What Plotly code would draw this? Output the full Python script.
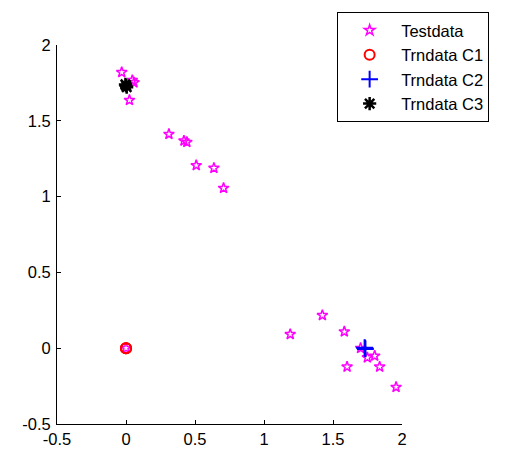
import plotly.graph_objects as go

# Test data (x, y)
test_x = [-0.031, 0.046, 0.058, 0.025, 0.311, 0.420, 0.441, 0.509, 0.637, 0.707, 0.0,
          1.190, 1.423, 1.582, 1.700, 1.749, 1.802, 1.602, 1.838, 1.957]
test_y = [1.820, 1.767, 1.752, 1.636, 1.412, 1.368, 1.359, 1.206, 1.188, 1.056, 0.0,
          0.092, 0.217, 0.109, 0.0, -0.062, -0.051, -0.123, -0.123, -0.257]

# Training data per class
c1_x = [0.0, 0.0, 0.0]
c1_y = [0.0, 0.0, 0.0]
c2_x = [1.732, 1.735, 1.729]
c2_y = [0.0, -0.005, 0.003]
c3_x = [0.0, 0.005, -0.004]
c3_y = [1.732, 1.722, 1.740]

tick_vals = [-0.5, 0, 0.5, 1, 1.5, 2]
tick_text = ["-0.5", "0", "0.5", "1", "1.5", "2"]

fig = go.Figure()
fig.add_trace(go.Scatter(x=test_x, y=test_y, mode="markers", name="Testdata",
                         marker=dict(symbol="star-open", size=8, color="#FF00FF",
                                     line=dict(width=1.5, color="#FF00FF"))))
fig.add_trace(go.Scatter(x=c1_x, y=c1_y, mode="markers", name="Trndata C1",
                         marker=dict(symbol="circle-open", size=10, color="#FF0000",
                                     line=dict(width=2, color="#FF0000"))))
fig.add_trace(go.Scatter(x=c2_x, y=c2_y, mode="markers", name="Trndata C2",
                         marker=dict(symbol="cross-thin-open", size=12, color="#0000FF",
                                     line=dict(width=2, color="#0000FF"))))
fig.add_trace(go.Scatter(x=c3_x, y=c3_y, mode="markers", name="Trndata C3",
                         marker=dict(symbol="asterisk-open", size=11, color="#000000",
                                     line=dict(width=2.5, color="#000000"))))

axis_common = dict(range=[-0.5, 2], tickvals=tick_vals, ticktext=tick_text,
                   showgrid=False, zeroline=False, showline=True, linecolor="black",
                   linewidth=1, ticks="inside", ticklen=4, tickcolor="black",
                   tickfont=dict(family="Liberation Sans, Arial", size=16.5, color="black"),
                   mirror=False, automargin=False)

fig.update_layout(
    width=506, height=450,
    margin=dict(l=57, r=104, t=45, b=26),
    plot_bgcolor="white", paper_bgcolor="white",
    xaxis=dict(**axis_common, ticklabelstandoff=0),
    yaxis=dict(**axis_common, ticklabelstandoff=2),
    showlegend=True,
    legend=dict(x=0.812, y=1.087, xanchor="left", yanchor="top",
                bordercolor="black", borderwidth=1, bgcolor="white",
                font=dict(family="Liberation Sans, Arial", size=16.5, color="black"),
                itemwidth=53, tracegroupgap=0),
)
fig.write_html("out.html")
